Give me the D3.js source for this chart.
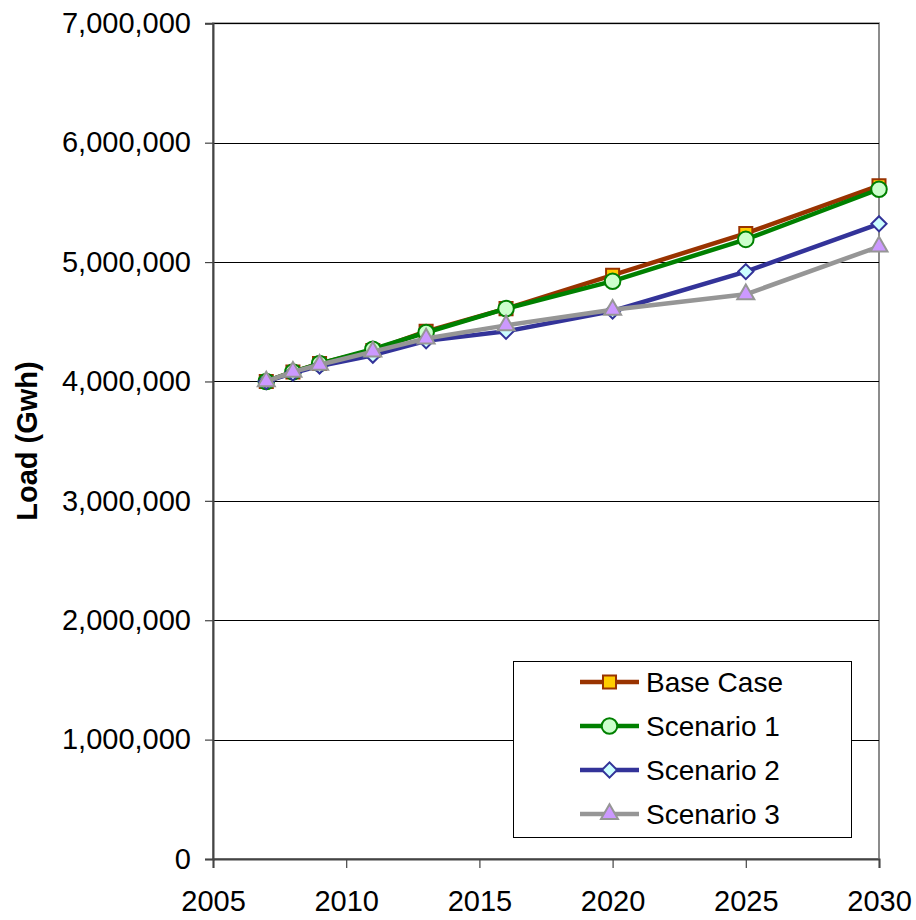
<!DOCTYPE html>
<html>
<head>
<meta charset="utf-8">
<script src="https://cdn.jsdelivr.net/npm/d3@7"></script>
<style>
  html, body { margin: 0; padding: 0; background: #fff; }
  svg { display: block; font-family: Arial, "Liberation Sans", sans-serif; }
</style>
</head>
<body>
<svg id="chart" width="916" height="920"></svg>
<script>
// Annual electricity load projections (GWh)
const years = [2007, 2008, 2009, 2011, 2013, 2016, 2020, 2025, 2030];
const baseCase  = [4000000, 4080000, 4150000, 4260000, 4420000, 4610000, 4890000, 5240000, 5640000];
const scenario1 = [4000000, 4080000, 4150000, 4270000, 4410000, 4610000, 4840000, 5190000, 5610000];
const scenario2 = [4000000, 4070000, 4130000, 4220000, 4340000, 4420000, 4590000, 4920000, 5320000];
const scenario3 = [4000000, 4080000, 4140000, 4250000, 4360000, 4470000, 4600000, 4730000, 5130000];
const seriesNames = ["Base Case", "Scenario 1", "Scenario 2", "Scenario 3"];
const xTicks = [2005, 2010, 2015, 2020, 2025, 2030];
const yTicks = [0, 1000000, 2000000, 3000000, 4000000, 5000000, 6000000, 7000000];

// square marker turned 45 degrees gives an even-sided diamond
const series = [
  { name: seriesNames[0], values: baseCase,  line: "#993300", fill: "#FFCC00", symbol: d3.symbolSquare,   size: 170, rot: 0 },
  { name: seriesNames[1], values: scenario1, line: "#008000", fill: "#CCFFCC", symbol: d3.symbolCircle,   size: 190, rot: 0 },
  { name: seriesNames[2], values: scenario2, line: "#333399", fill: "#CCFFFF", symbol: d3.symbolSquare,   size: 115, rot: 45 },
  { name: seriesNames[3], values: scenario3, line: "#969696", fill: "#CC99FF", symbol: d3.symbolTriangle, size: 125, rot: 0 }
];

const svg = d3.select("#chart");
const plot = { left: 213, right: 879, top: 23.3, bottom: 859 };

const x = d3.scaleLinear().domain([2005, 2030]).range([plot.left, plot.right]);
const y = d3.scaleLinear().domain([0, 7000000]).range([plot.bottom, plot.top]);

// plot frame
svg.append("rect")
  .attr("x", plot.left).attr("y", plot.top)
  .attr("width", plot.right - plot.left).attr("height", plot.bottom - plot.top)
  .attr("fill", "#fff").attr("stroke", "#8c8c8c").attr("stroke-width", 2);

// horizontal gridlines
svg.append("g").selectAll("line")
  .data(yTicks.filter(d => d > 0))
  .join("line")
  .attr("x1", plot.left).attr("x2", plot.right)
  .attr("y1", d => Math.round(y(d)) + 0.5).attr("y2", d => Math.round(y(d)) + 0.5)
  .attr("stroke", "#000").attr("stroke-width", 1);

// y axis
const fmt = d3.format(",");
const yAxis = svg.append("g")
  .attr("transform", `translate(${plot.left},0)`)
  .call(d3.axisLeft(y).tickValues(yTicks).tickFormat(fmt).tickSize(8).tickPadding(14));
yAxis.select(".domain").attr("stroke", "#444").attr("stroke-width", 2);
yAxis.selectAll(".tick line").attr("stroke", "#444").attr("stroke-width", 1.2);
yAxis.selectAll(".tick text")
  .attr("font-size", 29).attr("fill", "#000")
  .attr("font-family", "Arial, 'Liberation Sans', sans-serif");

// x axis
const xAxis = svg.append("g")
  .attr("transform", `translate(0,${plot.bottom})`)
  .call(d3.axisBottom(x).tickValues(xTicks).tickFormat(d3.format("d")).tickSize(9).tickPadding(22));
xAxis.select(".domain").attr("stroke", "#444").attr("stroke-width", 2);
xAxis.selectAll(".tick line").attr("stroke", "#444").attr("stroke-width", 1.2);
xAxis.selectAll(".tick text")
  .attr("font-size", 29).attr("fill", "#000")
  .attr("font-family", "Arial, 'Liberation Sans', sans-serif");

// y axis title
svg.append("text")
  .attr("transform", "translate(37,441) rotate(-90)")
  .attr("text-anchor", "middle")
  .attr("font-size", 29).attr("font-weight", "bold")
  .text("Load (Gwh)");

// series lines and markers
const line = d3.line().x((d, i) => x(years[i])).y(d => y(d));

series.forEach(s => {
  const g = svg.append("g");
  g.append("path")
    .attr("d", line(s.values))
    .attr("fill", "none").attr("stroke", s.line)
    .attr("stroke-width", 4.5).attr("stroke-linejoin", "round");
  g.selectAll("path.marker")
    .data(s.values)
    .join("path")
    .attr("class", "marker")
    .attr("transform", (d, i) => `translate(${x(years[i])},${y(d)}) rotate(${s.rot})`)
    .attr("d", d3.symbol().type(s.symbol).size(s.size))
    .attr("fill", s.fill).attr("stroke", s.line).attr("stroke-width", 2);
});

// legend
const legend = svg.append("g");
legend.append("rect")
  .attr("x", 513.5).attr("y", 661.5).attr("width", 338).attr("height", 176)
  .attr("fill", "#fff").attr("stroke", "#000").attr("stroke-width", 1);
const rowY = [682, 726, 770, 814];
series.forEach((s, i) => {
  const r = legend.append("g").attr("transform", `translate(0,${rowY[i]})`);
  r.append("line").attr("x1", 580).attr("x2", 639).attr("y1", 0).attr("y2", 0)
    .attr("stroke", s.line).attr("stroke-width", 4.5);
  r.append("path")
    .attr("transform", `translate(609.5,0) rotate(${s.rot})`)
    .attr("d", d3.symbol().type(s.symbol).size(s.size))
    .attr("fill", s.fill).attr("stroke", s.line).attr("stroke-width", 2);
  r.append("text")
    .attr("x", 646).attr("y", 10)
    .attr("font-size", 28).attr("fill", "#000")
    .text(s.name);
});
</script>
</body>
</html>
